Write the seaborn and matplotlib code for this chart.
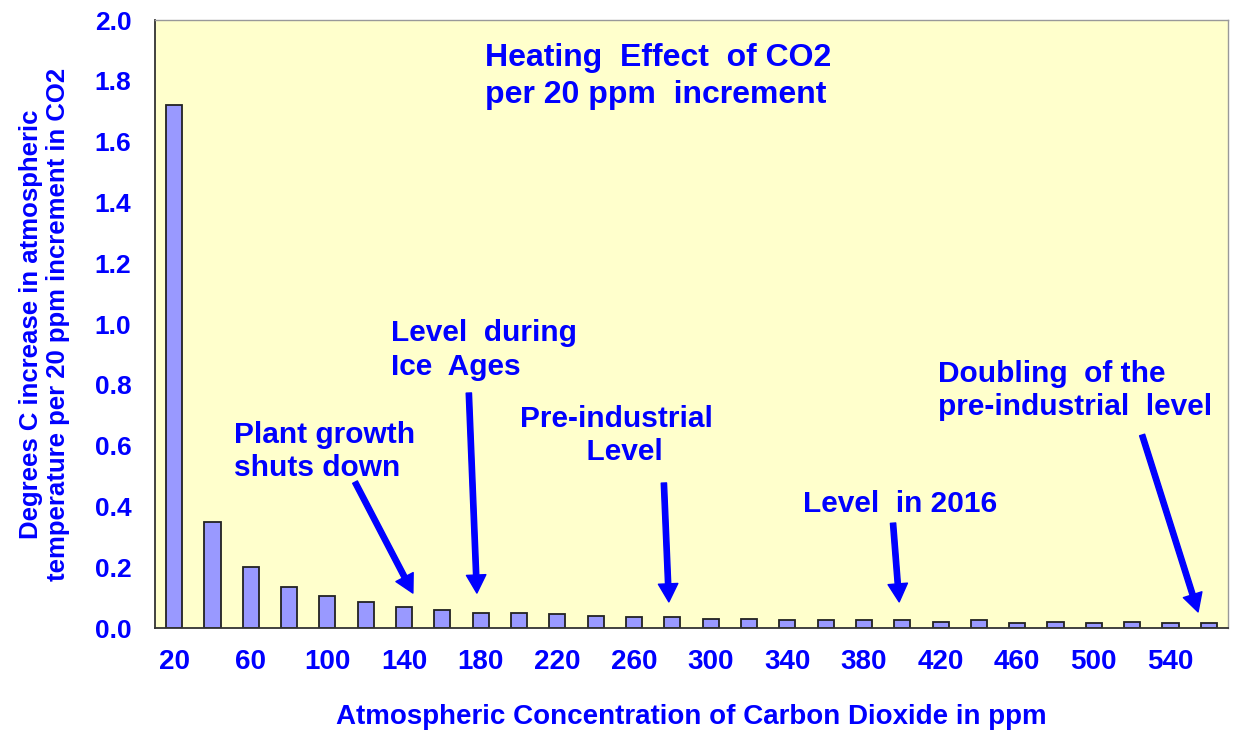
import matplotlib
matplotlib.use("Agg")
import matplotlib.pyplot as plt
import seaborn as sns
import pandas as pd

# data
ppm = [20, 40, 60, 80, 100, 120, 140, 160, 180, 200, 220, 240, 260, 280,
       300, 320, 340, 360, 380, 400, 420, 440, 460, 480, 500, 520, 540, 560]
heating = [1.72, 0.35, 0.20, 0.135, 0.105, 0.085, 0.07, 0.06, 0.05, 0.05, 0.045, 0.04, 0.035, 0.035,
           0.03, 0.03, 0.025, 0.025, 0.025, 0.025, 0.02, 0.025, 0.015, 0.02, 0.015, 0.02, 0.015, 0.015]
tick_labels = ['20', '60', '100', '140', '180', '220', '260', '300', '340', '380', '420', '460', '500', '540']

notes = ["Plant growth\nshuts down", "Level  during\nIce  Ages", "Pre-industrial\n  Level",
         "Level  in 2016", "Doubling  of the\npre-industrial  level"]
note_text_xy = [(1.56, 0.682), (5.66, 1.015), (11.53, 0.735), (16.41, 0.455), (19.93, 0.883)]
note_ha = ['left', 'left', 'center', 'left', 'left']
note_align = ['left', 'left', 'center', 'left', 'left']
arrow_tail = [(4.72, 0.480), (7.69, 0.773), (12.78, 0.477), (18.76, 0.345), (25.26, 0.635)]
arrow_tip = [(6.23, 0.115), (7.90, 0.115), (12.91, 0.086), (18.92, 0.086), (26.72, 0.053)]

df = pd.DataFrame({'ppm': ppm, 'heat': heating})

sns.set_style("white")
plt.rcParams['font.family'] = ['Liberation Sans', 'DejaVu Sans']

blue = '#0000FF'
fig = plt.figure(figsize=(12.35, 7.33), dpi=100)
ax = fig.add_axes([0.1255, 0.1432, 0.9943 - 0.1255, 0.9727 - 0.1432])
ax.set_facecolor('#FFFFCC')

sns.barplot(data=df, x='ppm', y='heat', color='#9999FF', saturation=1,
            edgecolor='#222222', linewidth=1.3, width=0.42, ax=ax)

ax.set_xlim(-0.5, len(ppm) - 0.5)
ax.set_ylim(0, 2.0)
ax.set_yticks([i * 0.2 for i in range(11)])
ax.set_yticklabels(['%.1f' % (i * 0.2) for i in range(11)])
ax.set_xticks(range(0, len(ppm), 2))
ax.set_xticklabels(tick_labels)
ax.set_xticks([i - 0.5 for i in range(len(ppm) + 1)], minor=True)

ax.tick_params(axis='x', which='major', length=0, pad=15, labelsize=20, labelcolor=blue)
ax.tick_params(axis='x', which='minor', length=6, width=1, color='#333333', direction='out')
ax.tick_params(axis='y', which='major', length=7, width=1, color='#333333', direction='out',
               pad=10, labelsize=19, labelcolor=blue)
for lab in ax.get_xticklabels() + ax.get_yticklabels():
    lab.set_fontweight('bold')

for s in ['left', 'bottom']:
    ax.spines[s].set_color('#333333')
    ax.spines[s].set_linewidth(1.3)
for s in ['top', 'right']:
    ax.spines[s].set_color('#999999')
    ax.spines[s].set_linewidth(1.0)

ax.set_xlabel('Atmospheric Concentration of Carbon Dioxide in ppm', fontsize=20,
              fontweight='bold', color=blue, labelpad=21)
ax.set_ylabel('Degrees C increase in atmospheric\ntemperature per 20 ppm increment in CO2',
              fontsize=18.5, fontweight='bold', color=blue, labelpad=18, linespacing=1.12)

ax.text(8.11, 1.925, 'Heating  Effect  of CO2\nper 20 ppm  increment', fontsize=23,
        fontweight='bold', color=blue, va='top', ha='left', linespacing=1.3)

for txt, xy, ha, al, tail, tip in zip(notes, note_text_xy, note_ha, note_align, arrow_tail, arrow_tip):
    ax.text(xy[0], xy[1], txt, fontsize=21.5, fontweight='bold', color=blue,
            va='top', ha=ha, multialignment=al, linespacing=1.25)
    ax.annotate('', xy=tip, xytext=tail,
                arrowprops=dict(facecolor=blue, edgecolor=blue, width=3.8,
                                headwidth=14, headlength=13, shrink=0))

fig.savefig('out.png', dpi=100, facecolor='white')
